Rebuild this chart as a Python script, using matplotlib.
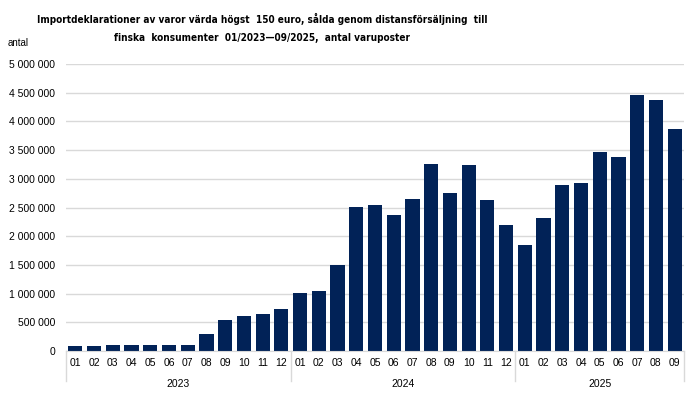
import numpy as np
import matplotlib
matplotlib.use("Agg")
import matplotlib.pyplot as plt
from matplotlib.ticker import FuncFormatter
import matplotlib.transforms as mtransforms

# ============================================================
# Data
# ============================================================
years = ["2023", "2024", "2025"]
months_per_year = [12, 12, 9]
month_labels = ([f"{m:02d}" for m in range(1, 13)] * 2
                + [f"{m:02d}" for m in range(1, 10)])

values_2023 = [87000, 88000, 105000, 105000, 105000, 105000, 105000,
               296000, 540000, 610000, 645000, 730000]
values_2024 = [1010000, 1050000, 1500000, 2515000, 2535000, 2375000,
               2655000, 3265000, 2755000, 3245000, 2635000, 2195000]
values_2025 = [1850000, 2320000, 2895000, 2935000, 3475000, 3385000,
               4465000, 4375000, 3875000]
values = values_2023 + values_2024 + values_2025

title = ("Importdeklarationer av varor värda högst  150 euro, sålda genom distansförsäljning  till\n"
         "finska  konsumenter  01/2023\u201409/2025,  antal varuposter")

# ============================================================
# Plot
# ============================================================
plt.rcParams['font.family'] = ['Liberation Sans', 'DejaVu Sans']

fig = plt.figure(figsize=(6.99, 3.97), dpi=100)
ax = fig.add_axes([66 / 699, 1 - 351 / 397, (684 - 66) / 699, (351 - 64) / 397])

x = np.arange(len(values))
ax.bar(x, values, width=0.76, color='#012257', zorder=3)

ax.set_xlim(-0.5, len(values) - 0.5)
ax.set_ylim(0, 5000000)
ax.set_yticks(np.arange(0, 5000001, 500000))
ax.yaxis.set_major_formatter(FuncFormatter(lambda v, p: f"{int(v):,}".replace(",", " ")))
ax.grid(axis='y', color='#d9d9d9', linewidth=1, zorder=0)
ax.tick_params(axis='y', length=0, pad=8, labelsize=7.5, colors='black')

ax.set_xticks(x)
ax.set_xticklabels(month_labels)
ax.tick_params(axis='x', length=0, pad=5, labelsize=7.5)

for side in ['left', 'right', 'top']:
    ax.spines[side].set_visible(False)
ax.spines['bottom'].set_color('#d9d9d9')
ax.spines['bottom'].set_zorder(4)

# year separators and labels below the month labels
trans = mtransforms.blended_transform_factory(ax.transData, ax.transAxes)
edges = np.concatenate([[0], np.cumsum(months_per_year)]) - 0.5
for e in edges:
    ax.plot([e, e], [0, -0.105], transform=trans, color='#d9d9d9',
            linewidth=1, clip_on=False)
for i, yr in enumerate(years):
    ax.text((edges[i] + edges[i + 1]) / 2, -0.115, yr, transform=trans,
            ha='center', va='center', fontsize=7.5)

fig.text(262 / 699, 1 - 28 / 397, title, ha='center', va='center',
         fontsize=7.2, fontweight='bold', fontstretch='condensed',
         linespacing=2.0, family=['DejaVu Sans'])
fig.text(8 / 699, 1 - 43 / 397, "antal", ha='left', va='center', fontsize=7)

fig.savefig("out.png", dpi=100)
